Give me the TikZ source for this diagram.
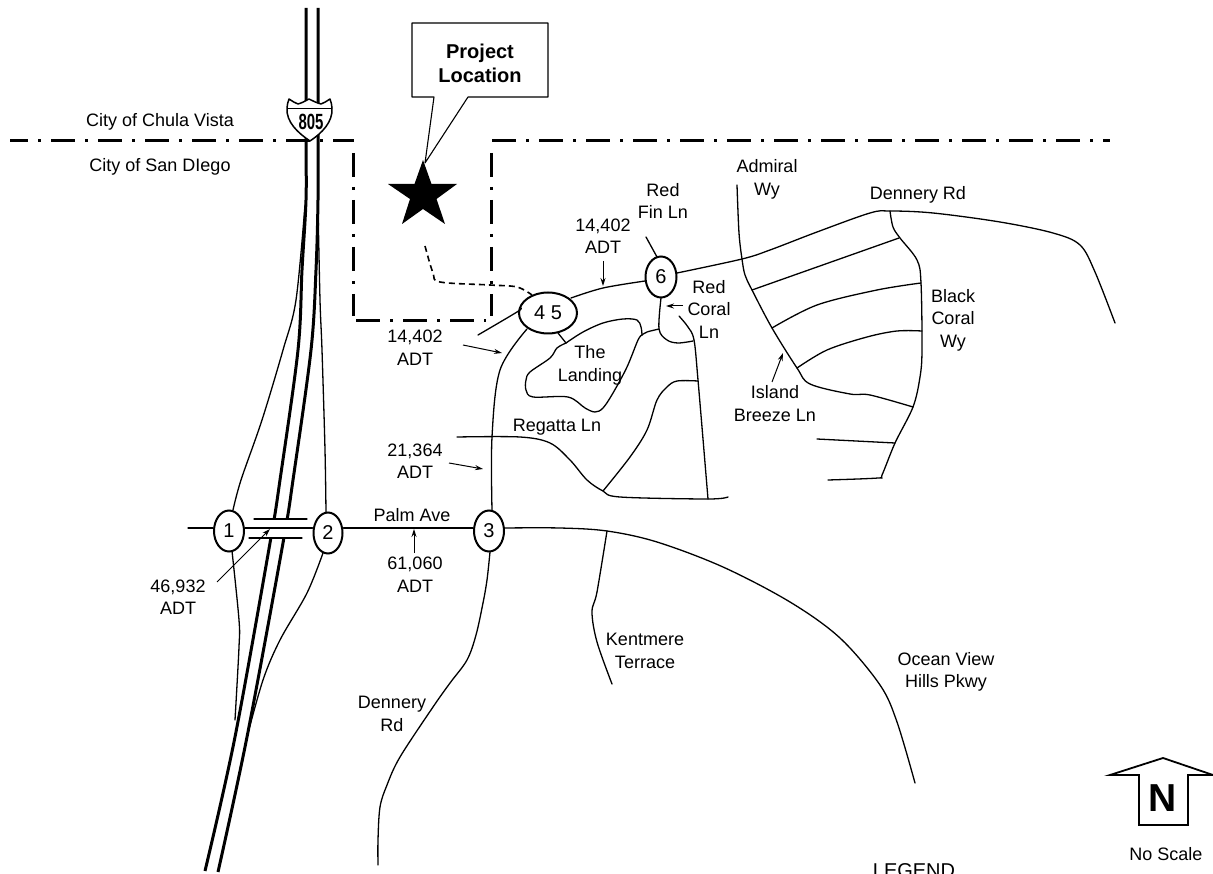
\documentclass[tikz,border=0pt]{standalone}
\usepackage{fontspec}
\setmainfont{Liberation Sans}
\usetikzlibrary{arrows.meta,shapes.geometric}
\tikzset{
  road/.style={line width=1.3pt,line cap=round,line join=round},
  freeway/.style={line width=3pt},
  boundary/.style={line width=3pt,dash pattern=on 24pt off 10pt on 3pt off 10pt},
  pointer/.style={line width=1pt,-{Stealth[length=8pt,width=5pt]}},
  intersection/.style={draw,ellipse,line width=2pt,fill=white,inner sep=0pt,font=\fontsize{20}{20}\selectfont},
  lab/.style={align=center,inner sep=0pt,font=\fontsize{18}{22.5}\selectfont},
  sm/.style={smooth,tension=0.55}
}
\begin{document}
\begin{tikzpicture}[x=1pt,y=-1pt]
\useasboundingbox (0,0) rectangle (1213,874);
\clip (0,0) rectangle (1213,874);
\fill[white] (0,0) rectangle (1213,874);
% freeway
\draw[freeway] plot[sm] coordinates {(306,8) (306,140) (306,200) (302,270) (298,350) (280,480) (270,543) (235,737) (205,871)};
\draw[freeway] plot[sm] coordinates {(318,8) (318,140) (318,200) (316,270) (311,350) (293,480) (283,543) (247,737) (218,872)};
\fill[white] (250,520) rectangle (306,537);
% ramps
\draw[road] plot[sm] coordinates {(305,205) (296,300) (283,350) (262,420) (241,480) (233,510)};
\draw[road] plot[sm] coordinates {(318,205) (320,300) (322,350) (325,450) (326,513)};
\draw[road] plot[sm] coordinates {(232,551) (239,620) (239,647) (235,720)};
\draw[road] plot[sm] coordinates {(323,553) (307,593) (280,640) (263,680) (247,737)};
\coordinate (pw) at (188,528);
\coordinate (bna) at (254,519); \coordinate (bnb) at (307,519);
\coordinate (bsa) at (249,538); \coordinate (bsb) at (302,538);
\draw[road] (bna) -- (bnb);
\draw[road] (bsa) -- (bsb);
% boundary
\draw[boundary,dash phase=6pt] (10,141) -- (354,141);
\draw[boundary] (492,141) -- (1110,141);
\draw[boundary] (353,153) -- (353,316);
\draw[boundary] (356,321) -- (486,321);
\draw[boundary] (491,153) -- (491,316);
% shield
\draw[line width=1.5pt,fill=white,line join=round] (289,99)
  .. controls (292,101) and (295,103) .. (298,104)
  .. controls (302,103) and (305,101) .. (309,99)
  .. controls (313,101) and (317,103) .. (321,104)
  .. controls (324,103) and (327,101) .. (330,99)
  .. controls (331,102) and (332,105) .. (332,108)
  .. controls (333,122) and (322,133) .. (310,141)
  .. controls (298,133) and (286,122) .. (287,108)
  .. controls (287,105) and (288,102) .. (289,99) -- cycle;
\draw[line width=1pt] (287,108.5) -- (332,108.5);
\node[inner sep=0pt] (shield) at (311,121.5) {\fontsize{22}{22}\selectfont\bfseries\scalebox{0.68}[1]{805}};
% callout
\draw[line width=1.1pt,fill=white,line join=round] (412,23) -- (548,23) -- (548,97) -- (468,97) -- (425,163) -- (434,97) -- (412,97) -- cycle;
\node[lab,font=\fontsize{20}{24}\selectfont\bfseries] (proj) at (480,63) {Project\\Location};
% star
\fill[black] (423,160) -- (431.5,184) -- (457,184) -- (436.5,199) -- (445,224) -- (423,209) -- (402,224) -- (410,199) -- (388,184) -- (414.5,184) -- cycle;
% intersections
\node[intersection,minimum width=30pt,minimum height=41pt] (n1) at (229,531) {1};
\node[intersection,minimum width=29pt,minimum height=41pt] (n2) at (328,533) {2};
\node[intersection,minimum width=30pt,minimum height=41pt] (n3) at (489,531) {3};
\node[intersection,minimum width=58pt,minimum height=41pt] (n45) at (548,313) {4 5};
\node[intersection,minimum width=31pt,minimum height=41pt] (n6) at (661,277) {6};
% access dashed
\draw[line width=1.6pt,dash pattern=on 6pt off 4pt] plot[sm] coordinates {(425,246) (433,273) (440,282) (490,285) (517,287) (532,295)};
% Palm Ave
\draw[road] (pw) -- (n1.west|-pw);
\draw[road] (n1.east|-pw) -- (n2.west|-pw);
\draw[road] (n2.east|-pw) -- (n3.west|-pw);
\draw[road] plot[sm] coordinates {(504,528) (560,528) (607,531) (657,542) (723,567) (790,602) (840,638) (880,685) (897,722) (915,783)};
% Dennery south
\draw[road] plot[sm] coordinates {(490,552) (487,580) (483,603) (476,635) (467,660) (450,683) (433,707) (400,757) (387,785) (380,807) (378,840) (378,865)};
\draw[road] plot[sm] coordinates {(607,531) (597,592) (592,612) (597,642) (612,684)};
% Dennery north
\draw[road] plot[sm] coordinates {(527,329) (500,370) (492,437) (492,510)};
\draw[road] plot[sm] coordinates {(478,335) (517,312) (521,308)};
\draw[road] plot[sm] coordinates {(571,298) (603,288) (645,281)};
\draw[road] plot[sm] coordinates {(677,273) (742,259) (770,250) (817,232) (870,213) (890,211) (933,213) (1000,222) (1053,233) (1080,245) (1095,272) (1115,323)};
\draw[road] (646,237) -- (657,257);
% Regatta
\draw[road] plot[sm] coordinates {(457,437) (520,437) (550,443) (570,460) (587,480) (603,491) (620,497) (708,499) (728,497)};
% Landing
\draw[road] (558,333) -- (566,343);
\draw[road] plot[sm] coordinates {(566,343) (583,332) (603,323) (623,319) (637,320) (641,327) (642,335)};
\draw[road] plot[sm] coordinates {(642,335) (638,340) (627,367) (613,393) (603,408) (595,412) (585,408) (568,397) (533,397) (526,390) (526,380) (530,372) (550,358) (557,348) (566,343)};
\draw[road] plot[sm] coordinates {(642,335) (647,332) (659,329)};
\draw[road] plot[sm] coordinates {(661,298) (659,329) (667,340) (678,343) (693,341)};
\draw[road] plot[sm] coordinates {(679,316) (688,327) (694,340) (698,380) (708,499)};
\draw[road] plot[sm] coordinates {(698,381) (677,381) (667,387) (657,400) (647,430) (630,457) (603,491)};
% Admiral / Island Breeze
\draw[road] plot[sm] coordinates {(737,185) (739,233) (742,259) (745,275) (752,290) (772,328) (797,368) (810,384) (850,394) (870,395) (913,407)};
\draw[road] plot[sm] coordinates {(890,211) (893,227) (900,238) (917,260) (921,283) (922,350) (920,377) (913,407) (895,443) (882,475) (878,478) (828,480)};
\draw[road] (752,290) -- (899,238);
\draw[road] plot[sm] coordinates {(772,328) (817,305) (877,290) (921,283)};
\draw[road] plot[sm] coordinates {(797,368) (827,350) (867,337) (897,331) (922,331)};
\draw[road] (817,439) -- (895,443);
% count arrows
\coordinate (a1s) at (217,582); \coordinate (a1e) at (270,529);
\coordinate (a2s) at (414,553); \coordinate (a2e) at (414,529);
\coordinate (a3s) at (449,463); \coordinate (a3e) at (483,469);
\coordinate (a4s) at (463,345); \coordinate (a4e) at (502,353);
\coordinate (a5s) at (603,261); \coordinate (a5e) at (603,286);
\coordinate (a6s) at (683,306); \coordinate (a6e) at (666,306);
\coordinate (a7s) at (772,382); \coordinate (a7e) at (783,353);
\foreach \k in {1,...,7} \draw[pointer] (a\k s) -- (a\k e);
% labels
\node[lab] (l1) at (160,122) {City of Chula Vista};
\node[lab] (l2) at (160,167) {City of San DIego};
\node[lab] (l3) at (603,236) {14,402\\ADT};
\node[lab] (l4) at (663,201) {Red\\Fin Ln};
\node[lab] (l5) at (767,179.5) {Admiral\\Wy};
\node[lab] (l6) at (918,195) {Dennery Rd};
\node[lab] (l7) at (953,320) {Black\\Coral\\Wy};
\node[lab] (l8) at (709,309) {Red\\Coral\\Ln};
\node[lab] (l9) at (590,365.5) {The\\Landing};
\node[lab] (l10) at (775,403.5) {Island\\Breeze Ln};
\node[lab] (l11) at (557,427) {Regatta Ln};
\node[lab] (l12) at (415,347.5) {14,402\\ADT};
\node[lab] (l13) at (415,461) {21,364\\ADT};
\node[lab] (l14) at (412,515) {Palm Ave};
\node[lab] (l15) at (415,574.5) {61,060\\ADT};
\node[lab] (l16) at (178,597) {46,932\\ADT};
\node[lab] (l17) at (392,714) {Dennery\\Rd};
\node[lab] (l18) at (645,651) {Kentmere\\Terrace};
\node[lab] (l19) at (946,672) {Ocean View\\Hills Pkwy};
\node[lab] (l20) at (1166,854) {No Scale};
\node[lab,anchor=base,font=\fontsize{20}{22}\selectfont] (l21) at (914,877) {LEGEND};
% north arrow
\draw[line width=1.8pt,line join=miter] (1163,758) -- (1110,775) -- (1139,775) -- (1139,825) -- (1188,825) -- (1188,775) -- (1213,775) -- cycle;
\node[inner sep=0pt,font=\fontsize{39}{39}\selectfont\bfseries] (north) at (1163,798) {N};
\end{tikzpicture}
\end{document}
